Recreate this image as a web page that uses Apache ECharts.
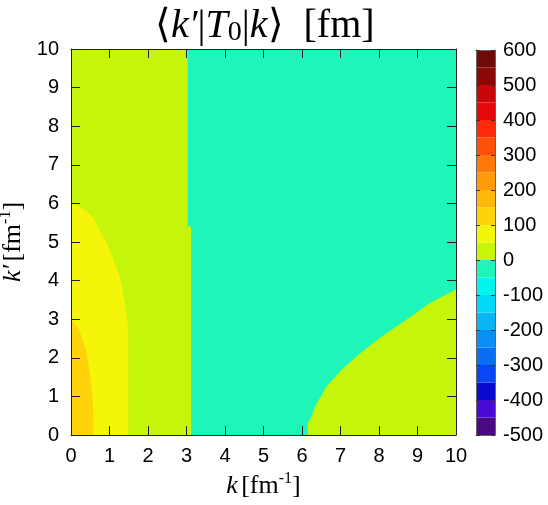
<!DOCTYPE html>
<html>
<head>
<meta charset="utf-8">
<script src="https://cdn.jsdelivr.net/npm/echarts@6/dist/echarts.min.js"></script>
<style>
    html, body { margin: 0; padding: 0; background: #fff; }
    #main { width: 548px; height: 505px; }
</style>
</head>
<body>
<div id="main"></div>
<script>
// tick labels
const kTicks = [0, 1, 2, 3, 4, 5, 6, 7, 8, 9, 10];
const cbTicks = [-500, -400, -300, -200, -100, 0, 100, 200, 300, 400, 500, 600];

// palette bands [fm], bottom to top
const bandEdges = [-500, -450, -400, -350, -300, -250, -200, -150, -100, -50, 0,
    50, 100, 150, 200, 250, 300, 350, 400, 450, 500, 550, 600];
const bandColors = ['#4b0a82', '#4a0ad5', '#0a0ad0', '#0a46f5', '#0a6ef5', '#0a90f5',
    '#0ab4f5', '#00d8f5', '#00f5f0', '#1ef5b9', '#c4f50a', '#f5f50a', '#ffd20a',
    '#ffb80a', '#ff9a0a', '#ff7a0a', '#ff500a', '#ff2a0a', '#e60808', '#c80808',
    '#8c0808', '#6e0a0a'];

// regions of constant colour, outlines as [k, k']
const regionBase = [[0, 0], [10, 0], [10, 10], [0, 10]];
const regionMint = [[3.03, 10], [10, 10], [10, 3.77], [9.32, 3.42], [8.72, 2.99], [8.07, 2.55],
    [7.51, 2.12], [7.03, 1.69], [6.64, 1.26], [6.34, 0.74], [6.25, 0.48], [6.15, 0.3],
    [6.15, 0], [3.12, 0], [3.12, 5.41], [3.03, 5.41]];
const regionYellow = [[0, 0], [1.49, 0], [1.49, 2.64], [1.47, 2.9], [1.40, 3.42], [1.32, 3.85],
    [1.23, 4.2], [1.1, 4.55], [0.93, 4.98], [0.75, 5.28], [0.58, 5.63], [0.36, 5.84], [0.1, 5.97], [0, 5.97]];
const regionOrange = [[0, 0], [0.58, 0], [0.58, 0.56], [0.55, 1.08], [0.49, 1.6], [0.41, 2.12],
    [0.28, 2.55], [0.15, 2.81], [0.05, 2.94], [0, 2.94]];
const regionPolys = [regionBase, regionMint, regionYellow, regionOrange];
const regionValues = [25, -25, 75, 125];

const chartDOM = document.getElementById('main');
const chart = echarts.init(chartDOM, null, { renderer: 'canvas' });

const sans = 'Liberation Sans';
const serif = 'Liberation Serif';
const frame = '#222';

const pieces = bandColors.map((c, i) => ({
    gte: bandEdges[i],
    lt: bandEdges[i + 1],
    color: c
}));
pieces[pieces.length - 1].lte = 600;

// axis unit label, rich text
const unitRich = {
    i: { fontFamily: serif, fontStyle: 'italic', fontSize: 26, color: '#000', lineHeight: 30 },
    n: { fontFamily: serif, fontSize: 26, color: '#000', lineHeight: 30 },
    sup: { fontFamily: serif, fontSize: 16, color: '#000', lineHeight: 30, verticalAlign: 'top', padding: [0, 0, 10, 0] }
};

// frame axis (ticks inward, no labels)
const frameAxis = (gridIndex, position, extra) => Object.assign({
    gridIndex: gridIndex, type: 'value', position: position, z: 10,
    axisLine: { show: true, onZero: false, lineStyle: { color: frame, width: 1 } },
    axisTick: { show: true, inside: true, length: 9, lineStyle: { color: frame } },
    axisLabel: { show: false },
    splitLine: { show: false }
}, extra);

const options = {
    animation: false,
    title: {
        text: '{a|⟨}{i|k′}{a||}{i|T}{sub|0}{a||}{i|k}{a|⟩  [fm]}',
        left: 150,
        top: -2,
        textStyle: {
            fontWeight: 'normal',
            rich: {
                a: { fontFamily: serif, fontWeight: 'normal', fontSize: 40, color: '#000', lineHeight: 46 },
                i: { fontFamily: serif, fontWeight: 'normal', fontStyle: 'italic', fontSize: 40, color: '#000', lineHeight: 46 },
                sub: { fontFamily: serif, fontWeight: 'normal', fontSize: 28, color: '#000', lineHeight: 46, padding: [14, 0, 0, 0] }
            }
        }
    },
    visualMap: {
        type: 'piecewise',
        show: false,
        dimension: 0,
        seriesIndex: [0, 1],
        pieces: pieces
    },
    grid: [
        { left: 71, top: 49, width: 385, height: 386, outerBoundsMode: 'none', containLabel: false },
        { left: 476, top: 50, width: 19, height: 385, outerBoundsMode: 'none', containLabel: false }
    ],
    xAxis: [
        frameAxis(0, 'bottom', {
            min: kTicks[0], max: kTicks[kTicks.length - 1], interval: 1,
            name: '{i|k} {n|[fm}{sup|-1}{n|]}', nameLocation: 'middle', nameGap: 36,
            nameTextStyle: { rich: unitRich },
            axisLabel: { fontFamily: sans, fontSize: 20, color: '#000', margin: 11 }
        }),
        frameAxis(0, 'top', { min: kTicks[0], max: kTicks[kTicks.length - 1], interval: 1 }),
        frameAxis(1, 'bottom', {
            min: 0, max: 1,
            axisLine: { show: true, onZero: false, lineStyle: { color: '#666', width: 1 } },
            axisTick: { show: false }
        }),
        frameAxis(1, 'top', {
            min: 0, max: 1,
            axisLine: { show: true, onZero: false, lineStyle: { color: '#666', width: 1 } },
            axisTick: { show: false }
        })
    ],
    yAxis: [
        frameAxis(0, 'left', {
            min: kTicks[0], max: kTicks[kTicks.length - 1], interval: 1,
            name: '{i|k′} {n|[fm}{sup|-1}{n|]}', nameLocation: 'middle', nameGap: 40,
            nameTextStyle: { rich: unitRich },
            axisLabel: { fontFamily: sans, fontSize: 20, color: '#000', margin: 12 }
        }),
        frameAxis(0, 'right', { min: kTicks[0], max: kTicks[kTicks.length - 1], interval: 1 }),
        frameAxis(1, 'right', {
            min: cbTicks[0], max: cbTicks[cbTicks.length - 1], interval: 100,
            axisLine: { show: true, onZero: false, lineStyle: { color: '#666', width: 1 } },
            axisTick: { show: true, inside: true, length: 4, lineStyle: { color: '#333' } },
            axisLabel: { fontFamily: sans, fontSize: 20, color: '#000', margin: 8 }
        }),
        frameAxis(1, 'left', {
            min: cbTicks[0], max: cbTicks[cbTicks.length - 1], interval: 100,
            axisLine: { show: true, onZero: false, lineStyle: { color: '#666', width: 1 } },
            axisTick: { show: true, inside: true, length: 4, lineStyle: { color: '#333' } }
        })
    ],
    series: [
        {
            // map regions
            type: 'custom',
            xAxisIndex: 0,
            yAxisIndex: 0,
            clip: true,
            z: 0,
            data: regionValues.map((v, i) => [v, i]),
            renderItem: function (params, api) {
                const poly = regionPolys[api.value(1)];
                return {
                    type: 'polygon',
                    shape: { points: poly.map(p => api.coord(p)) },
                    style: { fill: api.visual('color') }
                };
            }
        },
        {
            // colour bar
            type: 'custom',
            xAxisIndex: 2,
            yAxisIndex: 2,
            z: 0,
            data: bandColors.map((c, i) => [(bandEdges[i] + bandEdges[i + 1]) / 2, bandEdges[i], bandEdges[i + 1]]),
            renderItem: function (params, api) {
                const p0 = api.coord([0, api.value(2)]);
                const p1 = api.coord([1, api.value(1)]);
                return {
                    type: 'rect',
                    shape: { x: p0[0], y: p0[1], width: p1[0] - p0[0], height: p1[1] - p0[1] },
                    style: { fill: api.visual('color') }
                };
            }
        }
    ]
};

chart.setOption(options);
window.addEventListener('resize', () => chart.resize());
</script>
</body>
</html>
